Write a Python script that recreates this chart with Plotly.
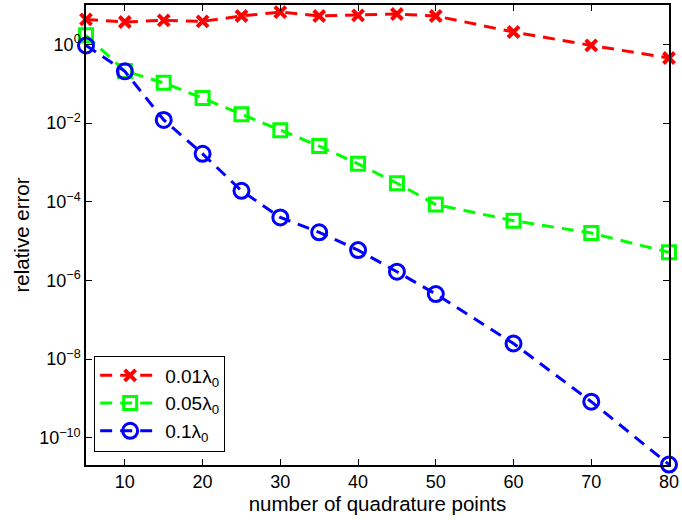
import plotly.graph_objects as go

x_points = [5, 10, 15, 20, 25, 30, 35, 40, 45, 50, 60, 70, 80]
err_001 = [4.3, 3.7, 4.08, 3.85, 5.25, 6.6, 5.25, 5.47, 5.9, 5.25, 2.06, 0.94, 0.45]
err_005 = [1.7, 0.21, 0.105, 0.043, 0.0168, 0.0066, 0.0026, 9.2e-4, 2.95e-4, 8.5e-5, 3.3e-5, 1.6e-5, 5.2e-6]
err_01 = [0.94, 0.206, 0.012, 1.65e-3, 1.9e-4, 4.0e-5, 1.67e-5, 5.9e-6, 1.67e-6, 4.5e-7, 2.5e-8, 8.3e-10, 2.1e-11]

series_names = ["0.01λ<sub>0</sub>", "0.05λ<sub>0</sub>", "0.1λ<sub>0</sub>"]
x_ticks = [10, 20, 30, 40, 50, 60, 70, 80]
y_tick_exps = [0, -2, -4, -6, -8, -10]

font = "Liberation Sans"

fig = go.Figure()
styles = [
    (err_001, "#ff0000", "x-thin-open", 11, 4),
    (err_005, "#00ff00", "square-open", 13, 3),
    (err_01, "#0000ff", "circle-open", 15, 3),
]
for (ys, color, sym, size, mlw), name in zip(styles, series_names):
    fig.add_trace(go.Scatter(
        x=x_points, y=ys, name=name, mode="lines+markers",
        line=dict(color=color, width=3, dash="12px,8px"),
        marker=dict(symbol=sym, size=size, color=color, line=dict(color=color, width=mlw)),
        cliponaxis=False,
    ))

fig.update_layout(
    width=682, height=520,
    margin=dict(l=86, r=10, t=3, b=55),
    paper_bgcolor="white", plot_bgcolor="white",
    font=dict(family=font, size=18, color="black"),
    showlegend=True,
    legend=dict(
        x=0.014, y=0.238, xanchor="left", yanchor="top",
        bordercolor="black", borderwidth=1, bgcolor="white",
        font=dict(family=font, size=19, color="black"),
        itemwidth=60, tracegroupgap=6,
    ),
)
fig.update_xaxes(
    range=[5, 80], showgrid=False, zeroline=False,
    showline=True, linecolor="black", linewidth=1.5, mirror="ticks",
    ticks="inside", ticklen=6, tickcolor="black",
    tickvals=x_ticks, ticktext=[str(v) for v in x_ticks],
    tickfont=dict(family=font, size=18), ticklabeloverflow="allow",
    title=dict(text="number of quadrature points", font=dict(family=font, size=20.5), standoff=2),
)
fig.update_yaxes(
    type="log", range=[-10.69, 1.0], showgrid=False, zeroline=False,
    showline=True, linecolor="black", linewidth=1.5, mirror="ticks",
    ticks="inside", ticklen=6, tickcolor="black",
    tickvals=[10.0 ** e for e in y_tick_exps],
    ticktext=["10<sup>%s</sup>" % (str(e).replace("-", "−")) for e in y_tick_exps],
    tickfont=dict(family=font, size=18), ticklabeloverflow="allow",
    title=dict(text="relative error", font=dict(family=font, size=20.5), standoff=4),
)

fig.write_html("out.html")
